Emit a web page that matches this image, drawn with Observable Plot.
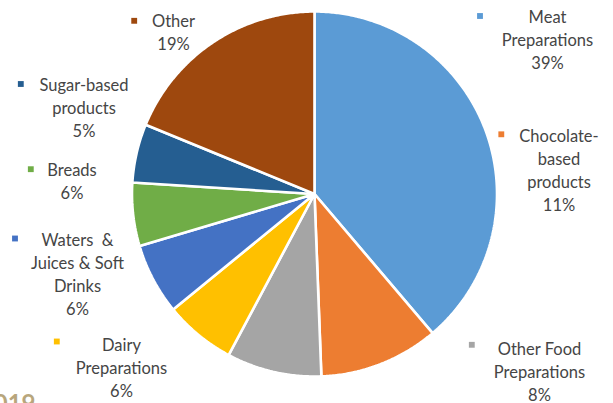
<!DOCTYPE html>
<html>
<head>
<meta charset="utf-8">
<script src="https://cdn.jsdelivr.net/npm/d3@7"></script>
<script src="https://cdn.jsdelivr.net/npm/@observablehq/plot@0.6"></script>
<style>
  html, body { margin: 0; padding: 0; background: #fff; }
  #chart svg { display: block; white-space: pre; }
</style>
</head>
<body>
<div id="chart"></div>
<script>
// ---- data ----
const categories = [
  "Meat Preparations",
  "Chocolate-based products",
  "Other Food Preparations",
  "Dairy Preparations",
  "Waters & Juices & Soft Drinks",
  "Breads",
  "Sugar-based products",
  "Other"
];
const shares = [38.8, 10.6, 8.4, 6.3, 6.3, 5.6, 5.2, 18.8];
const labelLines = [
  "Meat\nPreparations",
  "Chocolate-\nbased\nproducts",
  "Other Food\nPreparations",
  "Dairy\nPreparations",
  "Waters  &\nJuices & Soft\nDrinks",
  "Breads",
  "Sugar-based\nproducts",
  "Other"
];
const stamp = ["2019"];

// ---- style / layout ----
const colors = ["#5b9bd5", "#ed7d31", "#a5a5a5", "#ffc000", "#4472c4", "#70ad47", "#255e91", "#9e480e"];
const W = 613, H = 403;
const cx = 314, cy = 193.5, R = 182.5;
const labelShift = -2.5;
const labelPos = [
  [547, 41], [558.5, 171], [539, 373], [121, 369],
  [77, 275.5], [71.5, 182.5], [83.5, 108.5], [173, 33.5]
];
const markerPos = [
  [479.5, 15.5], [500.8, 133.8], [471.3, 344.3], [56.3, 341],
  [14.5, 238], [30.3, 168.7], [20.3, 83.5], [133.7, 20.3]
];

const rows = categories.map((c, i) => ({category: c, value: shares[i], i}));
const arcs = d3.pie().sort(null).value(d => d.value)(rows);

// polygon points for each slice
const pts = [];
for (const a of arcs) {
  const c = a.data.category;
  pts.push({category: c, x: cx, y: cy});
  const n = Math.max(2, Math.ceil((a.endAngle - a.startAngle) / (Math.PI / 360)));
  for (let k = 0; k <= n; k++) {
    const t = a.startAngle + (a.endAngle - a.startAngle) * k / n;
    pts.push({category: c, x: cx + R * Math.sin(t), y: cy - R * Math.cos(t)});
  }
  pts.push({category: c, x: cx, y: cy});
}

const labels = rows.map((d, i) => ({
  category: d.category,
  text: labelLines[i] + "\n" + Math.round(d.value) + "%",
  x: labelPos[i][0], y: labelPos[i][1] + labelShift,
  mx: markerPos[i][0], my: markerPos[i][1]
}));

const chart = Plot.plot({
  width: W, height: H,
  margin: 0,
  x: {domain: [0, W], range: [0, W], axis: null},
  y: {domain: [0, H], range: [0, H], axis: null},
  color: {domain: categories, range: colors},
  style: {fontFamily: "Lato, 'Open Sans', sans-serif", background: "#fff"},
  marks: [
    Plot.line(pts, {x: "x", y: "y", z: "category", fill: "category", stroke: "#fff", strokeWidth: 2.6, strokeLinejoin: "miter", curve: "linear"}),
    Plot.dot(labels, {x: "mx", y: "my", fill: "category", symbol: "square", r: 3.3, stroke: null}),
    Plot.text(labels, {x: "x", y: "y", text: "text", fill: "#454545", fontSize: 16.5, lineHeight: 1.39, lineAnchor: "middle", textAnchor: "middle"}),
    Plot.text(stamp, {x: () => 35, y: () => 411, text: d => d, fill: "#b8a67c", fontSize: 24, fontWeight: "bold", textAnchor: "end", lineAnchor: "bottom"})
  ]
});
document.getElementById("chart").appendChild(chart);
</script>
</body>
</html>
